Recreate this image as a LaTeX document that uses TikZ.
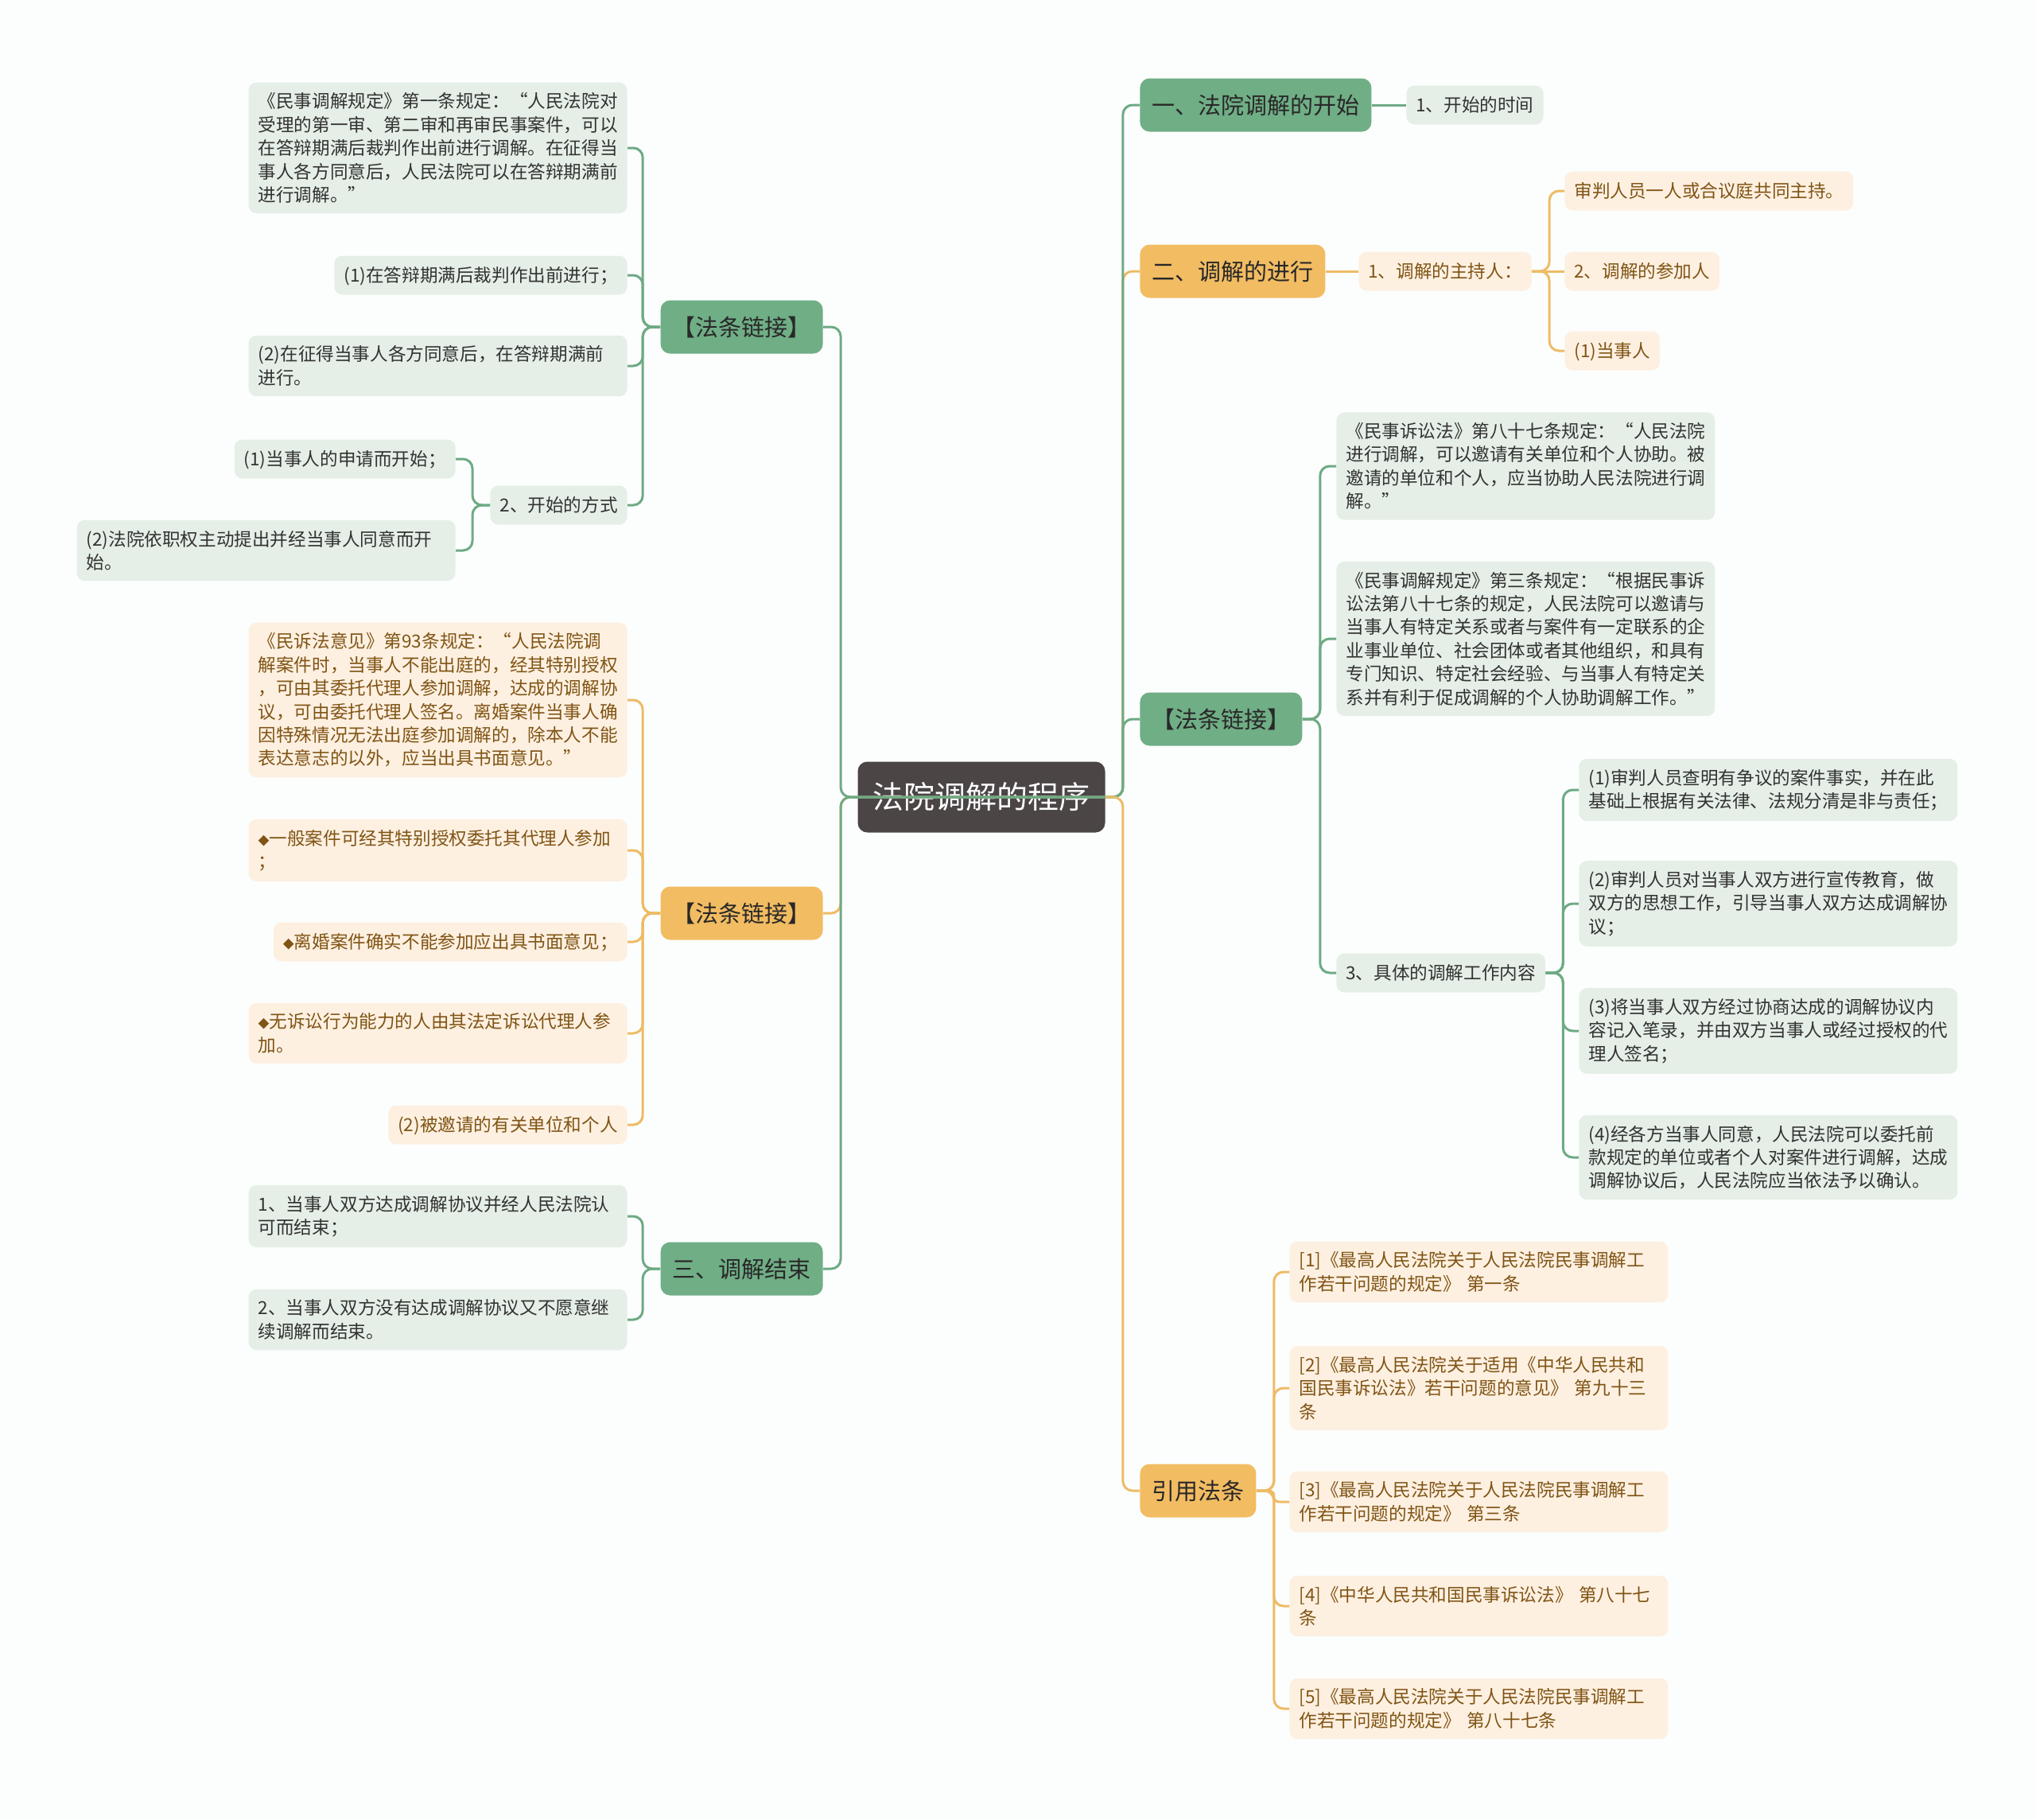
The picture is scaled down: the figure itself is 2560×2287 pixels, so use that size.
\documentclass[tikz,border=0pt]{standalone}
\usepackage{fontspec}
\setmainfont{Noto Sans CJK SC}

\definecolor{bgc}{RGB}{252,254,253}
\definecolor{rootc}{RGB}{75,69,70}
\definecolor{mgreen}{RGB}{112,174,134}
\definecolor{morange}{RGB}{242,188,98}
\definecolor{lgreen}{RGB}{229,239,231}
\definecolor{lorange}{RGB}{253,240,225}
\definecolor{gline}{RGB}{110,170,132}
\definecolor{oline}{RGB}{238,187,102}
\definecolor{otext}{RGB}{128,84,20}
\definecolor{gtext}{RGB}{50,50,50}
\definecolor{ink}{RGB}{40,40,40}

\newcommand\leafsize{\fontsize{11.3pt}{14.7pt}\selectfont}
\newcommand\branchsize{\fontsize{14.5pt}{17pt}\selectfont}
\newcommand\rootsize{\fontsize{19.5pt}{23pt}\selectfont}
\newcommand\dm{{\fontsize{7pt}{7pt}\selectfont ◆}}

\tikzset{
  rootbox/.style={fill=rootc, text=white, rounded corners=6pt, font=\rootsize,
    inner xsep=9.5pt, inner ysep=12.5pt, text height=17.2pt, text depth=2.3pt},
  topG/.style={fill=mgreen, text=ink, rounded corners=6pt, font=\branchsize,
    inner xsep=7.5pt, inner ysep=9.5pt, text height=12.8pt, text depth=1.7pt},
  topO/.style={topG, fill=morange},
  leafG/.style={fill=lgreen, text=gtext, rounded corners=5pt, font=\leafsize,
    inner xsep=6pt, inner ysep=6.5pt, align=left},
  leafO/.style={leafG, fill=lorange, text=otext},
  one/.style={inner ysep=6.25pt, text height=10.4pt, text depth=1.6pt},
  wide/.style={text width=226pt},
  gl/.style={draw=gline, line width=1.5pt, rounded corners=6pt},
  ol/.style={gl, draw=oline},
}

\begin{document}
\begin{tikzpicture}[x=0.5pt, y=-0.5pt]
	\fill[bgc] (0,0) rectangle (2560,2287);
	\useasboundingbox (0,0) rectangle (2560,2287);
	
	\node[rootbox] (root) at (1234,1002) {法院调解的程序};
	
	\node[topG, anchor=west] (R1) at (1433,132) {一、法院调解的开始};
	\node[leafG, one, anchor=west] (R1a) at (1768,132) {1、开始的时间};
	
	\node[topO, anchor=west] (R2) at (1433,341) {二、调解的进行};
	\node[leafO, one, anchor=west] (R2a) at (1708,341) {1、调解的主持人：};
	\node[leafO, one, anchor=west] (R2a1) at (1967,240) {审判人员一人或合议庭共同主持。};
	\node[leafO, one, anchor=west] (R2a2) at (1967,341) {2、调解的参加人};
	\node[leafO, one, anchor=west] (R2a3) at (1967,441) {(1)当事人};
	
	\node[topG, anchor=west] (R3) at (1433,904) {【法条链接】};
	\node[leafG, wide, anchor=west] (R3a) at (1680,586) {《民事诉讼法》第八十七条规定：“人民法院\\进行调解，可以邀请有关单位和个人协助。被\\邀请的单位和个人，应当协助人民法院进行调\\解。”};
	\node[leafG, wide, anchor=west] (R3b) at (1680,803) {《民事调解规定》第三条规定：“根据民事诉\\讼法第八十七条的规定，人民法院可以邀请与\\当事人有特定关系或者与案件有一定联系的企\\业事业单位、社会团体或者其他组织，和具有\\专门知识、特定社会经验、与当事人有特定关\\系并有利于促成调解的个人协助调解工作。”};
	\node[leafG, one, anchor=west] (R3c) at (1680,1223) {3、具体的调解工作内容};
	\node[leafG, wide, anchor=west] (R3c1) at (1985,993) {(1)审判人员查明有争议的案件事实，并在此\\基础上根据有关法律、法规分清是非与责任；};
	\node[leafG, wide, anchor=west] (R3c2) at (1985,1136) {(2)审判人员对当事人双方进行宣传教育，做\\双方的思想工作，引导当事人双方达成调解协\\议；};
	\node[leafG, wide, anchor=west] (R3c3) at (1985,1296) {(3)将当事人双方经过协商达成的调解协议内\\容记入笔录，并由双方当事人或经过授权的代\\理人签名；};
	\node[leafG, wide, anchor=west] (R3c4) at (1985,1455) {(4)经各方当事人同意，人民法院可以委托前\\款规定的单位或者个人对案件进行调解，达成\\调解协议后，人民法院应当依法予以确认。};
	
	\node[topO, anchor=west] (R4) at (1433,1874) {引用法条};
	\node[leafO, wide, anchor=west] (R4a) at (1621,1599) {[1]《最高人民法院关于人民法院民事调解工\\作若干问题的规定》~第一条};
	\node[leafO, wide, anchor=west] (R4b) at (1621,1745) {[2]《最高人民法院关于适用《中华人民共和\\国民事诉讼法》若干问题的意见》~第九十三\\条};
	\node[leafO, wide, anchor=west] (R4c) at (1621,1888) {[3]《最高人民法院关于人民法院民事调解工\\作若干问题的规定》~第三条};
	\node[leafO, wide, anchor=west] (R4d) at (1621,2019) {[4]《中华人民共和国民事诉讼法》~第八十七\\条};
	\node[leafO, wide, anchor=west] (R4e) at (1621,2148) {[5]《最高人民法院关于人民法院民事调解工\\作若干问题的规定》~第八十七条};
	
	\node[topG, anchor=east] (L1) at (1035,411) {【法条链接】};
	\node[leafG, wide, anchor=east] (L1a) at (789,186) {《民事调解规定》第一条规定：“人民法院对\\受理的第一审、第二审和再审民事案件，可以\\在答辩期满后裁判作出前进行调解。在征得当\\事人各方同意后，人民法院可以在答辩期满前\\进行调解。”};
	\node[leafG, one, anchor=east] (L1b) at (789,346) {(1)在答辩期满后裁判作出前进行；};
	\node[leafG, wide, anchor=east] (L1c) at (789,460) {(2)在征得当事人各方同意后，在答辩期满前\\进行。};
	\node[leafG, one, anchor=east] (L1d) at (789,635) {2、开始的方式};
	\node[leafG, one, anchor=east] (L1d1) at (573,577) {(1)当事人的申请而开始；};
	\node[leafG, wide, anchor=east] (L1d2) at (573,692) {(2)法院依职权主动提出并经当事人同意而开\\始。};
	
	\node[topO, anchor=east] (L2) at (1035,1148) {【法条链接】};
	\node[leafO, wide, anchor=east] (L2a) at (789,880) {《民诉法意见》第93条规定：“人民法院调\\解案件时，当事人不能出庭的，经其特别授权\\，可由其委托代理人参加调解，达成的调解协\\议，可由委托代理人签名。离婚案件当事人确\\因特殊情况无法出庭参加调解的，除本人不能\\表达意志的以外，应当出具书面意见。”};
	\node[leafO, wide, anchor=east] (L2b) at (789,1069) {\dm 一般案件可经其特别授权委托其代理人参加\\；};
	\node[leafO, one, anchor=east] (L2c) at (789,1184) {\dm 离婚案件确实不能参加应出具书面意见；};
	\node[leafO, wide, anchor=east] (L2d) at (789,1299) {\dm 无诉讼行为能力的人由其法定诉讼代理人参\\加。};
	\node[leafO, one, anchor=east] (L2e) at (789,1414) {(2)被邀请的有关单位和个人};
	
	\node[topG, anchor=east] (L3) at (1035,1595) {三、调解结束};
	\node[leafG, wide, anchor=east] (L3a) at (789,1529) {1、当事人双方达成调解协议并经人民法院认\\可而结束；};
	\node[leafG, wide, anchor=east] (L3b) at (789,1659) {2、当事人双方没有达成调解协议又不愿意继\\续调解而结束。};
	
	\draw[ol] (root.east) -- ++(11pt,0) |- (R2.west);
	\draw[gl] (root.east) -- ++(11pt,0) |- (R1.west);
	\draw[gl] (root.east) -- ++(11pt,0) |- (R3.west);
	\draw[ol] (root.east) -- ++(11pt,0) |- (R4.west);
	
	\draw[gl] (R1.east) -- (R1a.west);
	\draw[ol] (R2.east) -- (R2a.west);
	\draw[ol] (R2a.east) -- ++(11pt,0) |- (R2a1.west);
	\draw[ol] (R2a.east) -- (R2a2.west);
	\draw[ol] (R2a.east) -- ++(11pt,0) |- (R2a3.west);
	\draw[gl] (R3.east) -- ++(11pt,0) |- (R3a.west);
	\draw[gl] (R3.east) -- ++(11pt,0) |- (R3b.west);
	\draw[gl] (R3.east) -- ++(11pt,0) |- (R3c.west);
	\foreach \k in {1,...,4}
		\draw[gl] (R3c.east) -- ++(11pt,0) |- (R3c\k.west);
	\foreach \k in {a,b,d,e}
		\draw[ol] (R4.east) -- ++(11pt,0) |- (R4\k.west);
	\draw[ol, rounded corners=3pt] (R4.east) -- ++(11pt,0) |- (R4c.west);
	
	\draw[ol] (root.east) -- ([xshift=-10.5pt]root.west) |- (L2.east);
	\draw[gl] (root.east) -- ([xshift=-10.5pt]root.west) |- (L1.east);
	\draw[gl] (root.east) -- ([xshift=-10.5pt]root.west) |- (L3.east);
	
	\foreach \k in {a,b,c,d}
		\draw[gl] (L1.west) -- ++(-11pt,0) |- (L1\k.east);
	\draw[gl] (L1d.west) -- ++(-11pt,0) |- (L1d1.east);
	\draw[gl] (L1d.west) -- ++(-11pt,0) |- (L1d2.east);
	\foreach \k in {a,b,c,d,e}
		\draw[ol] (L2.west) -- ++(-11pt,0) |- (L2\k.east);
	\draw[gl] (L3.west) -- ++(-11pt,0) |- (L3a.east);
	\draw[gl] (L3.west) -- ++(-11pt,0) |- (L3b.east);
\end{tikzpicture}
\end{document}
